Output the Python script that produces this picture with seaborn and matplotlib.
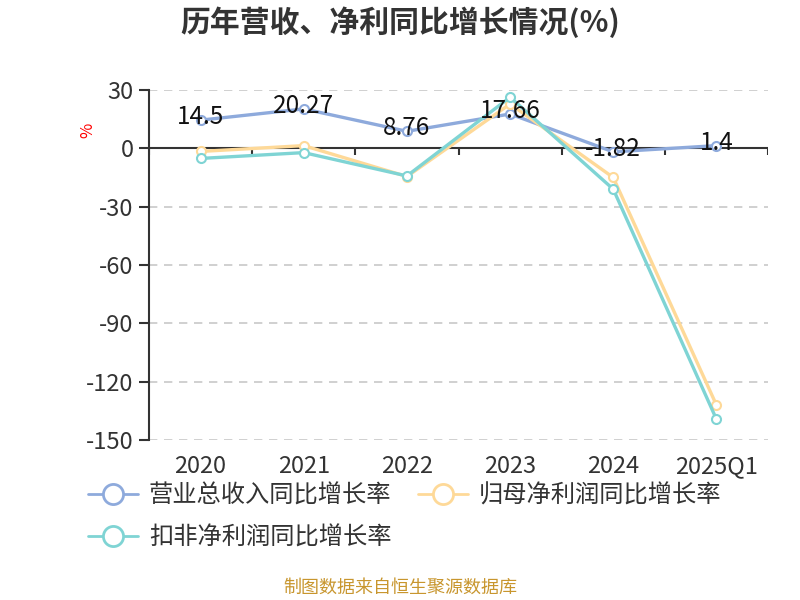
import numpy as np
import pandas as pd
import matplotlib
matplotlib.use("Agg")
import matplotlib.pyplot as plt
import seaborn as sns
from matplotlib.lines import Line2D

years = ["2020", "2021", "2022", "2023", "2024", "2025Q1"]
revenue_growth = [14.5, 20.27, 8.76, 17.66, -1.82, 1.4]
parent_profit_growth = [-1.6, 1.4, -14.5, 22.8, -15.0, -132.0]
deducted_profit_growth = [-5.2, -2.2, -14.2, 26.3, -21.0, -139.3]

names = ["营业总收入同比增长率", "归母净利润同比增长率", "扣非净利润同比增长率"]
colors = ["#8eaadc", "#fed998", "#7fd4d4"]

df = pd.concat([
    pd.DataFrame({"year": years, "value": vals, "series": name})
    for name, vals in zip(names, [revenue_growth, parent_profit_growth, deducted_profit_growth])
])
df["x"] = df["year"].map({y: i for i, y in enumerate(years)})

sns.set_style("white")
plt.rcParams["font.family"] = ["Noto Sans CJK SC", "DejaVu Sans"]
plt.rcParams["axes.unicode_minus"] = False

fig = plt.figure(figsize=(8, 6), dpi=100)
ax = fig.add_axes([149 / 800, 1 - 440 / 600, (768 - 149) / 800, (440 - 90) / 600])

sns.lineplot(data=df, x="x", y="value", hue="series", hue_order=names,
             palette=dict(zip(names, colors)), linewidth=2.4, marker="o",
             markersize=6.5, markerfacecolor="white", markeredgewidth=1.5,
             legend=False, ax=ax, zorder=3)
for line, c in zip(ax.get_lines(), colors):
    line.set_markeredgecolor(c)

for i, v in enumerate(revenue_growth):
    ax.text(i, v + 1.5, f"{v:g}", ha="center", va="center", fontsize=17.5,
            color="#111111", zorder=5)

ymin, ymax = -150, 30
ax.set_ylim(ymin, ymax)
ax.set_xlim(-0.5, len(years) - 0.5)
ax.set_yticks(np.arange(-150, 31, 30))
ax.yaxis.grid(True, linestyle=(0, (5, 4)), color="#c8c8c8", linewidth=1.2)
ax.set_xticks(range(len(years)))
ax.set_xticklabels(years)
ax.tick_params(axis="x", length=0, pad=11, labelsize=17, labelcolor="#333333")
ax.tick_params(axis="y", length=7, width=1.5, direction="out", color="#333333",
               pad=4, labelsize=17, labelcolor="#333333", left=True)
for s in ["top", "right", "bottom"]:
    ax.spines[s].set_visible(False)
ax.spines["left"].set_color("#333333")
ax.spines["left"].set_linewidth(1.5)
ax.set_xlabel("")
ax.set_ylabel("")

# zero axis line with ticks between categories
ax.axhline(0, color="#333333", linewidth=1.5, zorder=2)
ax.vlines(np.arange(-0.5, len(years), 1.0), -3.2, 0, color="#333333",
          linewidth=1.5, zorder=2)

ax.text((88 - 149) / 619, (440 - 130) / 350, "%", transform=ax.transAxes,
        rotation=90, color="red", fontsize=12, ha="center", va="center")

fig.text(0.5, 1 - 22 / 600, "历年营收、净利同比增长情况(%)", ha="center", va="center",
         fontsize=21.5, fontweight="bold", color="#333333")
fig.text(0.5, 1 - 588 / 600, "制图数据来自恒生聚源数据库", ha="center", va="center",
         fontsize=13, color="#c8962e")

handles = [Line2D([], [], color=c, linewidth=2, marker="o", markersize=14.5,
                  markerfacecolor="white", markeredgewidth=2, markeredgecolor=c)
           for c in colors]
order = [0, 2, 1]
fig.legend([handles[i] for i in order], [names[i] for i in order], ncol=2,
           loc="upper left", bbox_to_anchor=(76 / 800, 1 - 470 / 600),
           frameon=False, fontsize=17.5, handlelength=2.05, handletextpad=0.45,
           columnspacing=1.1, labelspacing=0.68, borderpad=0, labelcolor="#333333")

fig.savefig("out.png", dpi=100)
